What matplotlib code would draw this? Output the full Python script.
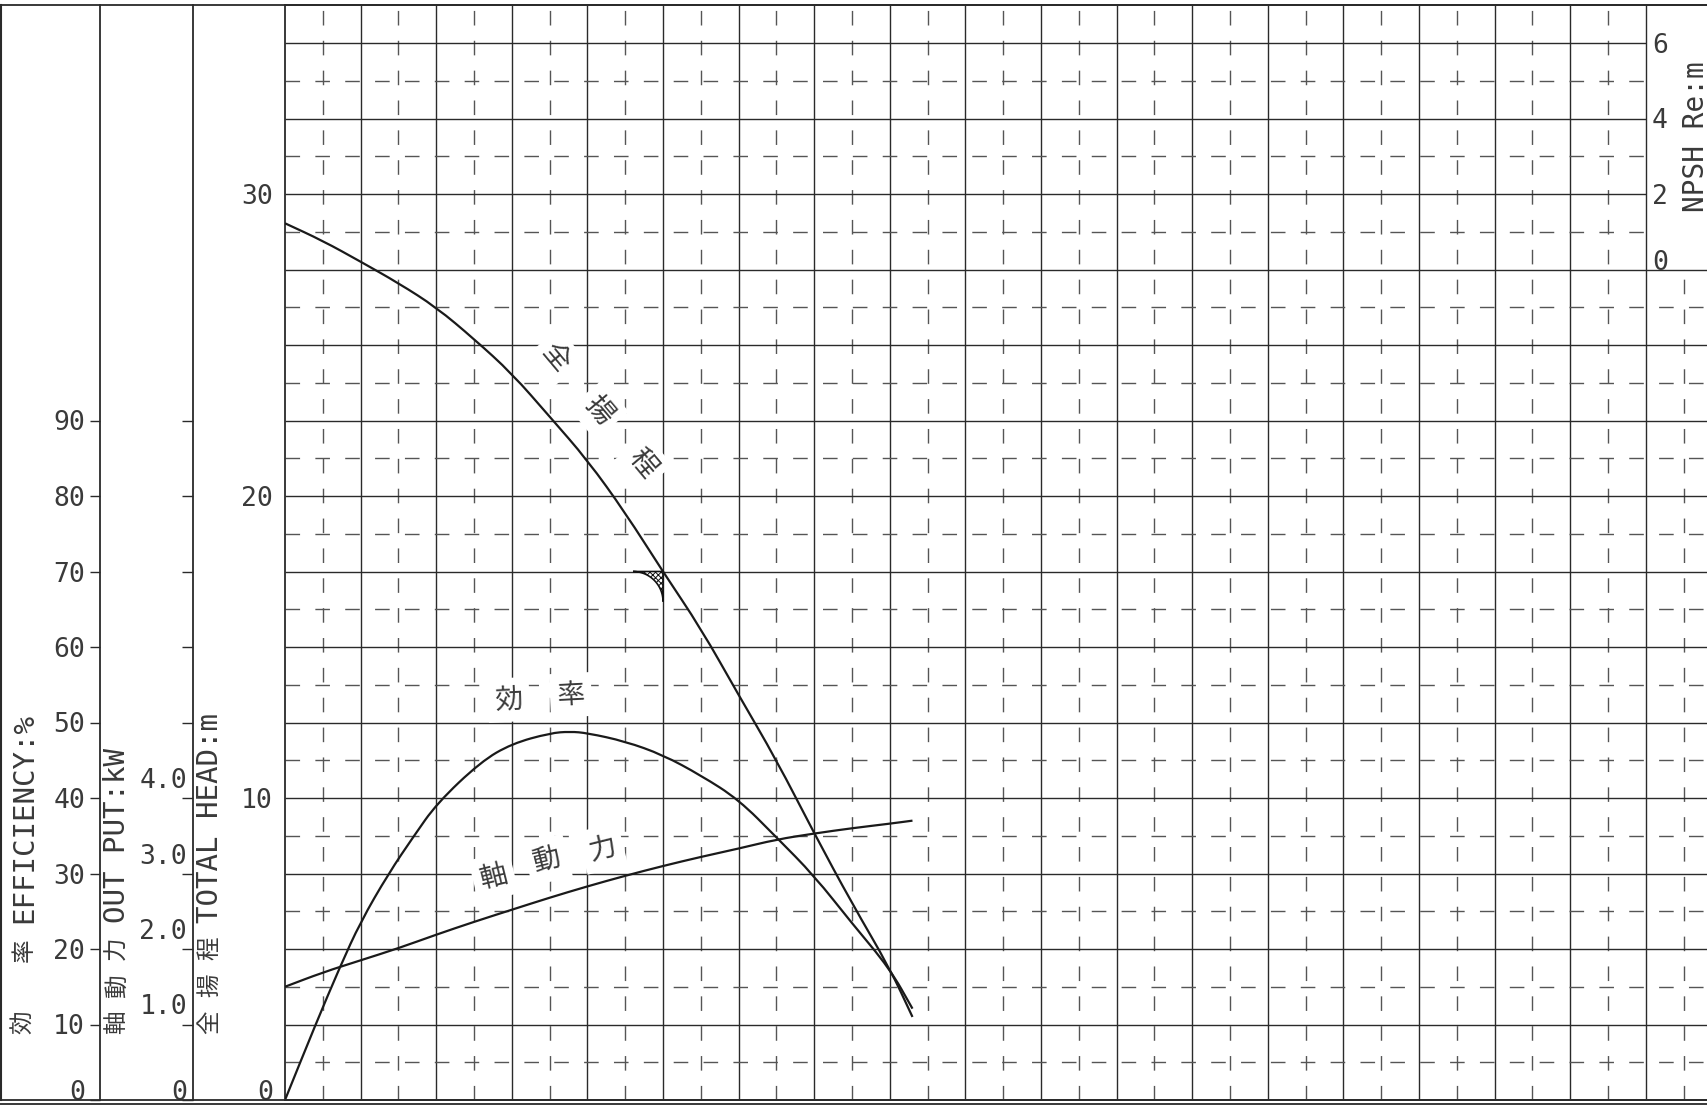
import matplotlib

matplotlib.use("Agg")
import matplotlib.pyplot as plt
import matplotlib.transforms as mtransforms
from matplotlib.patches import Polygon, PathPatch
from matplotlib.path import Path
from matplotlib.lines import Line2D
import numpy as np

plt.rcParams["font.family"] = ["DejaVu Sans Mono", "Noto Sans CJK JP"]
plt.rcParams["lines.scale_dashes"] = False
plt.rcParams["hatch.linewidth"] = 0.7

# pump curves, flow in grid cells
head_q = [0, 0.5, 1.0, 1.5, 2.0, 2.5, 3.0, 3.5, 4.0, 4.5, 5.0, 5.5, 6.0, 6.5, 7.0, 7.5, 8.0, 8.3]
head_m = [29.03, 28.45, 27.76, 27.05, 26.25, 25.2, 24.06, 22.63, 21.19, 19.45,
          17.49, 15.62, 13.41, 11.26, 8.83, 6.51, 4.36, 2.75]

eff_q = [0, 0.40, 0.73, 1.0, 1.37, 1.70, 2.01, 2.59, 3.0, 3.51, 3.77, 4.0, 4.5,
         5.0, 5.5, 6.0, 6.5, 7.0, 7.5, 8.0, 8.3]
eff_pct = [0, 9.9, 17.7, 23.6, 30.0, 34.9, 39.3, 44.8, 47.2, 48.6, 48.8, 48.6, 47.5,
           45.7, 43.0, 39.8, 34.8, 29.7, 23.4, 17.4, 12.1]

pow_q = [0, 0.5, 1.0, 1.5, 2.0, 2.5, 3.0, 3.5, 4.0, 4.5, 5.0, 5.5, 6.0, 6.5, 7.0, 7.5, 8.0, 8.3]
pow_kw = [1.50, 1.69, 1.85, 2.01, 2.19, 2.36, 2.52, 2.68, 2.83, 2.97, 3.10, 3.22,
          3.33, 3.45, 3.53, 3.60, 3.66, 3.70]

spec_q = 5.0
spec_head = 17.5

eff_ticks = [0, 10, 20, 30, 40, 50, 60, 70, 80, 90]
pow_ticks = [0, 1, 2, 3, 4, 5, 6, 7, 8, 9]
pow_labels = ["0", "1.0", "2.0", "3.0", "4.0"]
head_ticks = [0, 10, 20, 30]
npsh_ticks = [0, 2, 4, 6]

W, H = 1707, 1105
TXT = "#3a3a3a"
LINE = "#1a1a1a"
GRID = "#2a2a2a"
DASH = "#555555"


def fx(px):
    return px / W


def fy(py):
    return 1 - py / H


def smooth_curve(axis, xs, ys, **kw):
    # quadratic bezier through segment midpoints, points act as control points
    pts = np.column_stack([xs, ys])
    verts = [pts[0], (pts[0] + pts[1]) / 2]
    codes = [Path.MOVETO, Path.LINETO]
    for i in range(1, len(pts) - 1):
        verts += [pts[i], (pts[i] + pts[i + 1]) / 2]
        codes += [Path.CURVE3, Path.CURVE3]
    verts.append(pts[-1])
    codes.append(Path.LINETO)
    axis.add_patch(PathPatch(Path(verts, codes), fill=False, **kw))


fig = plt.figure(figsize=(W / 100, H / 100), dpi=100)

top_px = 5.25
bot_px = 1100
ax_h = (bot_px - top_px) / H
xmax = 1422 / 75.6
ytop = 36.25
npsh_x = 18
npsh_base = 27.5

ax = fig.add_axes([fx(285), fy(bot_px), fx(1422), ax_h])
ax.set_xlim(0, xmax)
ax.set_ylim(0, ytop)
ax.set_xticks([])
ax.set_yticks(head_ticks)
ax.set_yticklabels([str(t) for t in head_ticks])
ax.tick_params(axis="y", length=0, pad=8.6, labelsize=19, labelcolor=TXT)
ax.get_yticklabels()[0].set_verticalalignment("baseline")
ax.spines["right"].set_visible(False)
for s in ["left", "top", "bottom"]:
    ax.spines[s].set_linewidth(1.3)
    ax.spines[s].set_color(GRID)

# grid
dash = (0, (10.5, 11))
for i in range(1, 19):
    ax.vlines(i, 0, ytop, color=GRID, lw=1.0, zorder=1)
for i in range(0, 19):
    xd = i + 0.5
    ax.vlines(xd, 0, ytop if xd < npsh_x else npsh_base, color=DASH, lw=1.0,
              linestyles=[dash], zorder=1)
for k in range(1, 15):
    y = 2.5 * k
    ax.hlines(y, 0, xmax if y <= npsh_base else npsh_x, color=GRID, lw=1.0, zorder=1)
for k in range(0, 14):
    y = 1.25 + 2.5 * k
    ax.hlines(y, 0, xmax if y < npsh_base else npsh_x, color=DASH, lw=1.0,
              linestyles=[dash], zorder=1)

# curves
smooth_curve(ax, head_q, head_m, color=LINE, lw=1.6, zorder=5)

ax_e = ax.twinx()
ax_e.set_ylim(0, ytop * 4)
ax_e.set_axis_off()
smooth_curve(ax_e, eff_q, eff_pct, color=LINE, lw=1.6, zorder=5)

ax_p = ax.twinx()
ax_p.set_ylim(0, ytop / 2.5)
ax_p.set_axis_off()
smooth_curve(ax_p, pow_q, pow_kw, color=LINE, lw=1.6, zorder=5)

# npsh scale
ax_n = ax.twinx()
ax_n.set_ylim((0 - npsh_base) * 0.8, (ytop - npsh_base) * 0.8)
for s in ax_n.spines.values():
    s.set_visible(False)
ax_n.spines["right"].set_position(("axes", npsh_x / xmax))
ax_n.set_yticks(npsh_ticks)
ax_n.set_yticklabels([str(t) for t in npsh_ticks])
ax_n.tick_params(axis="y", length=0, pad=4.3, labelsize=19, labelcolor=TXT)
ax_n.get_yticklabels()[0].set_verticalalignment("baseline")

# specification point marker
rx = 30 / 75.6
ry = 30 / 30.2
t = np.linspace(np.pi / 2, 0, 30)
arc = np.column_stack([spec_q - rx + rx * np.cos(t), spec_head - ry + ry * np.sin(t)])
pts = np.vstack([[spec_q, spec_head], arc])
ax.add_patch(Polygon(pts, closed=True, facecolor="white", edgecolor="#111111",
                     hatch="xxxxxx", lw=1.2, zorder=4))

# curve labels
kj = dict(family="Noto Sans CJK JP", fontsize=20, color=TXT, ha="center", va="center",
          zorder=3, bbox=dict(facecolor="white", edgecolor="none", pad=5))
for ch, x, y in [("全", 3.58, 24.57), ("揚", 4.15, 22.85), ("程", 4.73, 21.08)]:
    ax.text(x, y, ch, rotation=-50, **kj)
for ch, x, y in [("効", 2.96, 13.25), ("率", 3.78, 13.41)]:
    ax.text(x, y, ch, rotation=3, **kj)
for ch, x, y in [("軸", 2.76, 7.39), ("動", 3.47, 7.95), ("力", 4.20, 8.33)]:
    ax.text(x, y, ch, rotation=14, **kj)

# efficiency panel
ax_ef = fig.add_axes([fx(100), fy(bot_px), fx(93), ax_h])
ax_ef.set_ylim(0, ytop * 4)
ax_ef.set_xticks([])
ax_ef.patch.set_visible(False)
for s in ["right", "top", "bottom"]:
    ax_ef.spines[s].set_visible(False)
ax_ef.spines["left"].set_linewidth(1.3)
ax_ef.spines["left"].set_color(GRID)
ax_ef.set_yticks(eff_ticks)
ax_ef.set_yticklabels([str(t) for t in eff_ticks])
ax_ef.tick_params(axis="y", direction="out", length=7.2, width=1.0, color=GRID,
                  pad=3.6, labelsize=19, labelcolor=TXT)
ax_ef.get_yticklabels()[0].set_verticalalignment("baseline")

# power panel
ax_pw = fig.add_axes([fx(193), fy(bot_px), fx(92), ax_h])
ax_pw.set_ylim(0, ytop / 2.5)
ax_pw.set_xticks([])
ax_pw.patch.set_visible(False)
for s in ["right", "top", "bottom"]:
    ax_pw.spines[s].set_visible(False)
ax_pw.spines["left"].set_linewidth(1.3)
ax_pw.spines["left"].set_color(GRID)
ax_pw.set_yticks(pow_ticks)
ax_pw.set_yticklabels([])
ax_pw.tick_params(axis="y", direction="out", length=8, width=1.0, color=GRID)
blend = mtransforms.blended_transform_factory(ax_pw.transAxes, ax_pw.transData)
for v, lab in enumerate(pow_labels):
    tr = mtransforms.offset_copy(blend, fig=fig, x=-6, y=0 if v == 0 else 10,
                                 units="dots")
    ax_pw.text(0, v, lab, transform=tr, ha="right", va="baseline", fontsize=19,
               color=TXT)


# axis titles (vertical)
def vlabel(xc, pieces):
    for s, ybot, size in pieces:
        fam = "Noto Sans CJK JP" if ord(s[0]) > 0x2000 else "DejaVu Sans Mono"
        fig.text(fx(xc), fy(ybot), s, rotation=90, ha="center", va="bottom",
                 fontsize=size, family=fam, color=TXT)


vlabel(24, [("効", 1034, 17), ("率", 962, 17), ("EFFICIENCY:%", 923, 21)])
vlabel(117, [("軸", 1034, 17), ("動", 997, 17), ("力", 960, 17), ("OUT PUT:kW", 923, 21)])
vlabel(210, [("全", 1034, 17), ("揚", 997, 17), ("程", 960, 17), ("TOTAL HEAD:m", 923, 21)])
fig.text(fx(1696), fy(212), "NPSH Re:m", rotation=90, ha="center", va="bottom",
         fontsize=20, color=TXT)

# frame lines
for y in [top_px, bot_px, 1104]:
    fig.add_artist(Line2D([0, 1], [fy(y), fy(y)], color=GRID, lw=1.3,
                          transform=fig.transFigure))
fig.add_artist(Line2D([fx(1), fx(1)], [fy(top_px), fy(bot_px)], color=GRID, lw=1.5,
                      transform=fig.transFigure))

fig.savefig("out.png", dpi=100)
